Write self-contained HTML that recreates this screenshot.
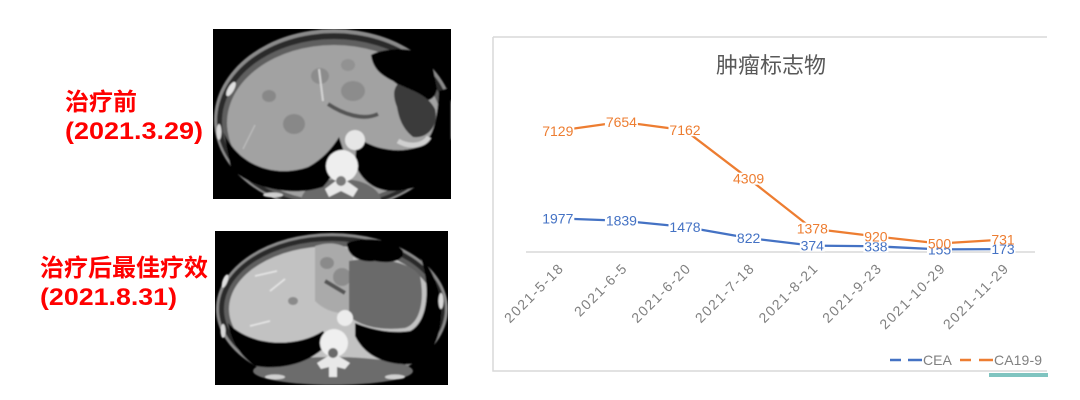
<!DOCTYPE html>
<html><head><meta charset="utf-8">
<style>
html,body{margin:0;padding:0;background:#fff;width:1080px;height:400px;overflow:hidden}
svg{display:block}
</style></head><body>
<svg width="1080" height="400" viewBox="0 0 1080 400" xmlns="http://www.w3.org/2000/svg">
<defs>
<filter id="bl" x="-5%" y="-5%" width="110%" height="110%"><feGaussianBlur stdDeviation="0.9"/></filter>
<clipPath id="c1"><rect width="238" height="170"/></clipPath>
<clipPath id="c2"><rect width="233" height="154"/></clipPath>
</defs>

<!-- left red labels -->
<g font-family="'Liberation Sans','Noto Sans CJK SC',sans-serif" font-weight="bold" fill="#ff0000" font-size="24">
<text x="65" y="110">治疗前</text>
<text x="65" y="139" textLength="138" lengthAdjust="spacingAndGlyphs">(2021.3.29)</text>
<text x="40" y="276">治疗后最佳疗效</text>
<text x="40" y="305" textLength="137" lengthAdjust="spacingAndGlyphs">(2021.8.31)</text>
</g>

<!-- CT image 1 -->
<g transform="translate(213,29)" clip-path="url(#c1)">
<rect width="238" height="170" fill="#000"/>
<g filter="url(#bl)">
<ellipse cx="121" cy="91" rx="120" ry="91" fill="#8a8a8a"/>
<ellipse cx="121" cy="92" rx="117" ry="88" fill="#2a2a2a"/>
<ellipse cx="121" cy="93" rx="112" ry="83" fill="#5e5e5e"/>
<ellipse cx="121" cy="94" rx="107" ry="78" fill="#a2a2a2"/>
<ellipse cx="128" cy="172" rx="40" ry="22" fill="#6a6a6a"/>
<!-- lesions -->
<ellipse cx="56" cy="67" rx="7" ry="6" fill="#888"/>
<ellipse cx="81" cy="95" rx="11" ry="10" fill="#888"/>
<ellipse cx="140" cy="62" rx="12" ry="10" fill="#8c8c8c"/>
<ellipse cx="107" cy="47" rx="9" ry="8" fill="#8c8c8c"/>
<ellipse cx="135" cy="36" rx="7" ry="6" fill="#929292"/>
<path d="M106 40 L110 72" stroke="#d5d5d5" stroke-width="2"/>
<path d="M30 120 L42 96" stroke="#c0c0c0" stroke-width="1.2"/>
<!-- porta region -->
<path d="M115 75 C130 85,150 92,165 85" stroke="#555" stroke-width="4" fill="none"/>
<!-- stomach gas -->
<path d="M158 26 C172 18,205 18,218 28 L224 60 C222 72,212 74,205 68 C195 64,188 58,180 52 C168 46,160 40,158 26 Z" fill="#030303"/>
<path d="M185 55 C200 62,215 66,222 80 C226 96,215 110,200 108 C190 100,186 90,184 78 C180 68,180 60,185 55 Z" fill="#3a3a3a"/>
<!-- lungs -->
<path d="M11 104 C25 135,60 150,95 138 C110 130,120 118,126 108 L130 120 C126 135,118 150,110 158 C80 168,40 160,18 140 Z" fill="#000"/>
<path d="M144 108 C160 120,185 125,205 118 C218 112,224 98,226 62 L238 58 L238 130 C230 150,210 160,180 162 C160 162,148 150,142 135 Z" fill="#000"/>
<path d="M185 112 C195 118,210 118,216 108" stroke="#d0d0d0" stroke-width="5" fill="none"/>
<!-- spine & aorta -->
<circle cx="129" cy="137" r="16" fill="#eeeeee"/>
<circle cx="142" cy="111" r="10" fill="#e6e6e6"/>
<path d="M112 160 L128 148 L145 160 L140 168 L128 162 L116 168 Z" fill="#e8e8e8"/>
<circle cx="128" cy="152" r="5" fill="#7a7a7a"/>
<!-- ribs -->
<ellipse cx="18" cy="60" rx="3" ry="8" fill="#e0e0e0" transform="rotate(30 18 60)"/>
<ellipse cx="6" cy="103" rx="2.5" ry="8" fill="#d8d8d8"/>
<ellipse cx="60" cy="166" rx="10" ry="2.5" fill="#d0d0d0"/>
</g>
</g>

<!-- CT image 2 -->
<g transform="translate(215,231)" clip-path="url(#c2)">
<rect width="233" height="154" fill="#000"/>
<g filter="url(#bl)">
<ellipse cx="117" cy="78" rx="116" ry="76" fill="#8a8a8a"/>
<ellipse cx="117" cy="78" rx="113" ry="73" fill="#2a2a2a"/>
<ellipse cx="117" cy="78" rx="108" ry="68" fill="#5e5e5e"/>
<ellipse cx="117" cy="78" rx="103" ry="63" fill="#c2c2c2"/>
<ellipse cx="118" cy="140" rx="80" ry="14" fill="#6c6c6c"/>
<path d="M100 15 C115 10,132 12,138 25 L138 80 C125 85,110 80,100 70 Z" fill="#aaaaaa"/>
<ellipse cx="112" cy="32" rx="7" ry="6" fill="#8a8a8a"/>
<ellipse cx="127" cy="46" rx="9" ry="9" fill="#8c8c8c"/>
<path d="M110 50 L130 62" stroke="#555" stroke-width="4"/>
<ellipse cx="78" cy="70" rx="5" ry="4" fill="#8a8a8a"/>
<path d="M40 45 L62 40 M55 60 L70 48 M35 95 L55 90" stroke="#e8e8e8" stroke-width="1.5"/>
<!-- stomach -->
<path d="M134 30 C160 25,195 30,205 45 C210 70,205 92,190 97 C165 100,145 95,134 85 Z" fill="#6a6a6a"/>
<path d="M132 12 C150 5,180 8,188 20 C190 30,175 33,160 30 C145 32,132 25,132 12 Z" fill="#000"/>
<!-- lungs -->
<path d="M13 92 C35 115,80 118,108 100 L115 110 C100 130,70 140,40 135 C25 125,16 110,13 92 Z" fill="#000"/>
<path d="M205 25 C215 50,215 90,195 100 C175 103,155 98,140 92 L140 105 C150 125,170 135,200 133 C220 125,228 100,226 70 C222 50,215 35,205 25 Z" fill="#000"/>
<!-- spine & aorta -->
<circle cx="119" cy="112" r="14" fill="#efefef"/>
<circle cx="130" cy="87" r="8" fill="#ececec"/>
<path d="M102 132 L118 122 L135 132 L130 138 L122 136 L122 146 L114 146 L114 136 L106 138 Z" fill="#e8e8e8"/>
<circle cx="118" cy="122" r="5" fill="#6a6a6a"/>
<!-- ribs -->
<ellipse cx="10" cy="50" rx="2.5" ry="7" fill="#e0e0e0" transform="rotate(20 10 50)"/>
<ellipse cx="8" cy="100" rx="2.5" ry="7" fill="#d8d8d8"/>
<ellipse cx="226" cy="70" rx="2.5" ry="8" fill="#d8d8d8"/>
<ellipse cx="180" cy="146" rx="10" ry="2.5" fill="#d0d0d0"/>
<ellipse cx="60" cy="146" rx="10" ry="2.5" fill="#d0d0d0"/>
</g>
</g>

<!-- chart frame -->
<path d="M493 37 H1047 M493 37 V371 H1047" stroke="#d9d9d9" stroke-width="1.5" fill="none"/>
<rect x="989" y="373" width="59" height="4" fill="#7fc4c0"/>

<!-- title -->
<text x="771" y="73" text-anchor="middle" font-family="'Noto Sans CJK SC','WenQuanYi Zen Hei',sans-serif" font-size="22" fill="#595959">肿瘤标志物</text>

<!-- axis -->
<line x1="526" y1="252" x2="1035" y2="252" stroke="#d9d9d9" stroke-width="1.5"/>

<!-- series lines -->
<polyline fill="none" stroke="#4472C4" stroke-width="2.25" stroke-linejoin="round"
 points="557.8,218.4 621.4,220.7 685,226.9 748.6,238 812.3,245.6 875.9,246.3 939.5,249.4 1003,249.1"/>
<polyline fill="none" stroke="#ED7D31" stroke-width="2.25" stroke-linejoin="round"
 points="557.8,130.8 621.4,121.9 685,130.2 748.6,178.7 812.3,228.6 875.9,236.4 939.5,243.5 1003,239.6"/>

<!-- data labels -->
<g font-family="'Liberation Sans',sans-serif" font-size="14" text-anchor="middle">
<g fill="#fff">
<rect x="541.3" y="212.4" width="33" height="12"/>
<rect x="604.9" y="214.7" width="33" height="12"/>
<rect x="668.5" y="220.9" width="33" height="12"/>
<rect x="736.1" y="232" width="25" height="12"/>
<rect x="799.8" y="239.6" width="25" height="12"/>
<rect x="863.4" y="240.3" width="25" height="12"/>
<rect x="927" y="243.4" width="25" height="12"/>
<rect x="990.5" y="243.1" width="25" height="12"/>
</g>
<g fill="#4472C4">
<text x="557.8" y="223.4">1977</text>
<text x="621.4" y="225.7">1839</text>
<text x="685" y="231.9">1478</text>
<text x="748.6" y="243">822</text>
<text x="812.3" y="250.6">374</text>
<text x="875.9" y="251.3">338</text>
<text x="939.5" y="254.4">155</text>
<text x="1003" y="254.1">173</text>
</g>
<g fill="#fff">
<rect x="541.3" y="124.8" width="33" height="12"/>
<rect x="604.9" y="115.9" width="33" height="12"/>
<rect x="668.5" y="124.2" width="33" height="12"/>
<rect x="732.1" y="172.7" width="33" height="12"/>
<rect x="795.8" y="222.6" width="33" height="12"/>
<rect x="863.4" y="230.4" width="25" height="12"/>
<rect x="927" y="237.5" width="25" height="10"/>
<rect x="990.5" y="233.6" width="25" height="11"/>
</g>
<g fill="#ED7D31">
<text x="557.8" y="135.8">7129</text>
<text x="621.4" y="126.9">7654</text>
<text x="685" y="135.2">7162</text>
<text x="748.6" y="183.7">4309</text>
<text x="812.3" y="233.6">1378</text>
<text x="875.9" y="241.4">920</text>
<text x="939.5" y="248.5">500</text>
<text x="1003" y="244.6">731</text>
</g>
</g>

<!-- x axis labels -->
<g font-family="'Liberation Sans',sans-serif" font-size="14" fill="#808080" text-anchor="end">
<text transform="translate(563.8,270) rotate(-45)" textLength="76" lengthAdjust="spacing">2021-5-18</text>
<text transform="translate(627.4,270) rotate(-45)" textLength="67" lengthAdjust="spacing">2021-6-5</text>
<text transform="translate(691,270) rotate(-45)" textLength="76" lengthAdjust="spacing">2021-6-20</text>
<text transform="translate(754.6,270) rotate(-45)" textLength="76" lengthAdjust="spacing">2021-7-18</text>
<text transform="translate(818.3,270) rotate(-45)" textLength="76" lengthAdjust="spacing">2021-8-21</text>
<text transform="translate(881.9,270) rotate(-45)" textLength="76" lengthAdjust="spacing">2021-9-23</text>
<text transform="translate(945.5,270) rotate(-45)" textLength="85" lengthAdjust="spacing">2021-10-29</text>
<text transform="translate(1009,270) rotate(-45)" textLength="85" lengthAdjust="spacing">2021-11-29</text>
</g>

<!-- legend -->
<g stroke-width="2.5">
<line x1="890" y1="360" x2="901" y2="360" stroke="#4472C4"/>
<line x1="908" y1="360" x2="922" y2="360" stroke="#4472C4"/>
<line x1="960" y1="360" x2="971" y2="360" stroke="#ED7D31"/>
<line x1="979" y1="360" x2="993" y2="360" stroke="#ED7D31"/>
</g>
<g font-family="'Liberation Sans',sans-serif" font-size="14" fill="#808080">
<text x="923" y="365">CEA</text>
<text x="994" y="365" textLength="48" lengthAdjust="spacing">CA19-9</text>
</g>
</svg>
</body></html>
